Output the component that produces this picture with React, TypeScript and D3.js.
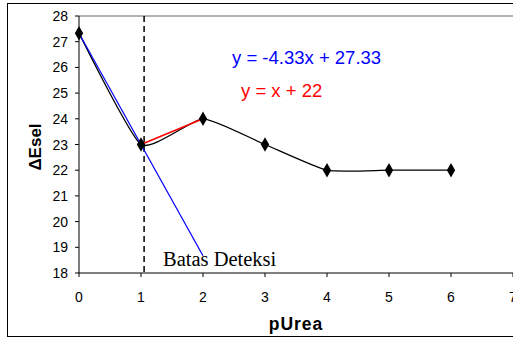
import React from "react";
import * as d3 from "d3";

const xVals = [0, 1, 2, 3, 4, 5, 6];
const yVals = [27.33, 23, 24, 23, 22, 22, 22];
const xTicks = [0, 1, 2, 3, 4, 5, 6, 7];
const yTicks = [18, 19, 20, 21, 22, 23, 24, 25, 26, 27, 28];
const blueFit = { slope: -4.33, intercept: 27.33, x0: 0, x1: 2 };
const redFit = { slope: 1, intercept: 22, x0: 1, x1: 2 };
const detectionX = 1.05;

export default function App() {
  const W = 513, H = 339;
  const x = d3.scaleLinear().domain([0, 7]).range([79, 513]);
  const y = d3.scaleLinear().domain([18, 28]).range([273, 16]);
  const pts: [number, number][] = xVals.map((v, i) => [x(v), y(yVals[i])]);
  const line = d3.line().curve(d3.curveCardinal.tension(0.5));
  const diamond = d3.symbol().type(d3.symbolDiamond).size(60)();
  const font = "Arial, 'Liberation Sans', sans-serif";
  return (
    <svg width={W} height={H} style={{ position: "absolute", left: 0, top: 0, background: "#fff" }}>
      <rect x={7.5} y={3.5} width={520} height={333} fill="#fff" stroke="#000" strokeWidth={1} />
      <line x1={x(0)} x2={W} y1={y(28)} y2={y(28)} stroke="#999" strokeWidth={1.5} />
      <line x1={x(0)} x2={x(0)} y1={y(28)} y2={y(18)} stroke="#000" strokeWidth={1} />
      <line x1={x(0)} x2={W} y1={y(18)} y2={y(18)} stroke="#000" strokeWidth={1} />
      {yTicks.map((t) => (
        <g key={"y" + t}>
          <line x1={x(0) - 4} x2={x(0)} y1={y(t)} y2={y(t)} stroke="#000" />
          <text x={68} y={y(t)} dy="0.36em" textAnchor="end" fontFamily={font} fontSize={14} fill="#000">{t}</text>
        </g>
      ))}
      {xTicks.map((t) => (
        <g key={"x" + t}>
          <line x1={x(t)} x2={x(t)} y1={y(18)} y2={y(18) + 4} stroke="#000" />
          <text x={x(t)} y={y(18) + 29} textAnchor="middle" fontFamily={font} fontSize={14} fill="#000">{t}</text>
        </g>
      ))}
      <line x1={x(detectionX)} x2={x(detectionX)} y1={y(28)} y2={y(18)} stroke="#000" strokeWidth={1.5} strokeDasharray="6,4" />
      <path d={line(pts) || ""} fill="none" stroke="#000" strokeWidth={1.3} />
      <line x1={x(blueFit.x0)} y1={y(blueFit.slope * blueFit.x0 + blueFit.intercept)} x2={x(blueFit.x1)} y2={y(blueFit.slope * blueFit.x1 + blueFit.intercept)} stroke="#0000ff" strokeWidth={1.2} />
      <line x1={x(redFit.x0)} y1={y(redFit.slope * redFit.x0 + redFit.intercept)} x2={x(redFit.x1)} y2={y(redFit.slope * redFit.x1 + redFit.intercept)} stroke="#ff0000" strokeWidth={1.5} />
      {pts.map((p, i) => (
        <path key={i} d={diamond || ""} transform={`translate(${p[0]},${p[1]})`} fill="#000" />
      ))}
      <text x={232} y={64} fontFamily={font} fontSize={18.5} fill="#0000ff">y = -4.33x + 27.33</text>
      <text x={241} y={97} fontFamily={font} fontSize={18.5} fill="#ff0000">y = x + 22</text>
      <text x={163} y={266} fontFamily="'Liberation Serif', 'Times New Roman', serif" fontSize={20.5} fill="#000">Batas Deteksi</text>
      <text x={296} y={330} textAnchor="middle" fontFamily={font} fontSize={17.5} fontWeight="bold" letterSpacing={1} fill="#000">pUrea</text>
      <text transform={`translate(41,147) rotate(-90)`} textAnchor="middle" fontFamily={font} fontSize={17} fontWeight="bold" fill="#000">ΔEsel</text>
    </svg>
  );
}
